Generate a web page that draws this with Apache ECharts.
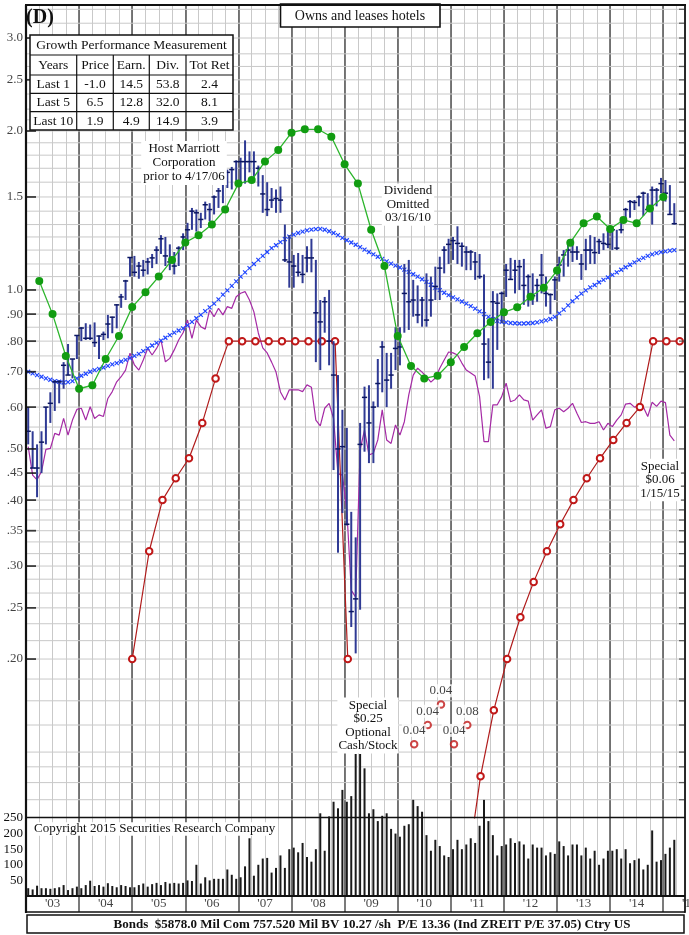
<!DOCTYPE html>
<html>
<head>
<meta charset="utf-8">
<script src="https://cdn.jsdelivr.net/npm/echarts@6/dist/echarts.min.js"></script>
<style>
html, body { margin: 0; padding: 0; background: #fff; }
#main { width: 689px; height: 935px; }
</style>
</head>
<body>
<div id="main"></div>
<script>
var chart = echarts.init(document.getElementById('main'));

// monthly price bars, Jan 2003 .. Mar 2015
var high = [
  0.60, 0.54, 0.51, 0.54, 0.60, 0.64, 0.675, 0.675, 0.73, 0.79, 0.74, 0.82,
  0.85, 0.865, 0.86, 0.868, 0.82, 0.834, 0.897, 0.89, 0.94, 0.983, 1.045, 1.153,
  1.16, 1.13, 1.14, 1.15, 1.17, 1.21, 1.27, 1.26, 1.22, 1.18, 1.21, 1.28,
  1.34, 1.43, 1.42, 1.40, 1.47, 1.46, 1.51, 1.56, 1.62, 1.69, 1.71, 1.76,
  1.78, 1.92, 1.83, 1.83, 1.72, 1.65, 1.60, 1.56, 1.55, 1.57, 1.33, 1.27,
  1.165, 1.175, 1.165, 1.21, 1.25, 1.14, 0.957, 0.97, 1.0, 0.80, 0.69, 0.593,
  0.548, 0.38, 0.34, 0.56, 0.656, 0.66, 0.615, 0.74, 0.80, 0.76, 0.76, 0.85,
  0.85, 1.12, 1.14, 1.045, 1.02, 0.97, 1.075, 1.06, 1.107, 1.156, 1.21, 1.25,
  1.26, 1.32, 1.23, 1.21, 1.19, 1.18, 1.17, 1.07, 0.81, 0.995, 0.985, 0.993,
  1.12, 1.15, 1.14, 1.14, 1.145, 1.07, 1.075, 1.05, 1.17, 1.06, 0.985, 1.06,
  1.156, 1.19, 1.22, 1.25, 1.21, 1.17, 1.25, 1.27, 1.26, 1.25, 1.28, 1.30,
  1.32, 1.30, 1.357, 1.43, 1.48, 1.48, 1.51, 1.535, 1.525, 1.57, 1.56, 1.63,
  1.615, 1.58, 1.46
];
var low = [
  0.51, 0.46, 0.405, 0.45, 0.51, 0.56, 0.59, 0.61, 0.65, 0.69, 0.68, 0.74,
  0.80, 0.804, 0.804, 0.78, 0.74, 0.804, 0.81, 0.828, 0.846, 0.925, 0.957, 1.06,
  1.06, 1.05, 1.06, 1.07, 1.10, 1.12, 1.17, 1.11, 1.09, 1.07, 1.11, 1.19,
  1.24, 1.30, 1.29, 1.31, 1.36, 1.35, 1.39, 1.43, 1.46, 1.56, 1.55, 1.61,
  1.61, 1.59, 1.67, 1.64, 1.57, 1.40, 1.38, 1.43, 1.40, 1.40, 1.13, 1.01,
  1.01, 1.06, 1.03, 1.08, 1.08, 0.73, 0.705, 0.83, 0.72, 0.456, 0.318, 0.378,
  0.358, 0.23, 0.205, 0.248, 0.494, 0.47, 0.47, 0.60, 0.64, 0.60, 0.65, 0.705,
  0.72, 0.83, 0.84, 0.89, 0.865, 0.852, 0.852, 0.89, 0.957, 0.957, 1.075, 1.12,
  1.14, 1.12, 1.107, 1.09, 1.09, 1.045, 1.05, 0.675, 0.68, 0.65, 0.77, 0.865,
  0.97, 1.045, 0.985, 1.0, 0.937, 0.93, 0.937, 0.95, 0.985, 0.93, 0.90, 0.957,
  1.037, 1.06, 1.107, 1.13, 1.14, 1.045, 1.09, 1.12, 1.12, 1.17, 1.19, 1.20,
  1.19, 1.19, 1.28, 1.357, 1.37, 1.417, 1.44, 1.38, 1.417, 1.33, 1.44, 1.525,
  1.47, 1.39, 1.33
];
var close = [
  0.54, 0.46, 0.46, 0.515, 0.60, 0.61, 0.67, 0.67, 0.72, 0.69, 0.74, 0.82,
  0.847, 0.81, 0.81, 0.795, 0.818, 0.824, 0.862, 0.888, 0.937, 0.97, 1.04, 1.152,
  1.08, 1.11, 1.09, 1.13, 1.15, 1.19, 1.25, 1.16, 1.13, 1.11, 1.20, 1.26,
  1.30, 1.41, 1.40, 1.36, 1.45, 1.42, 1.50, 1.54, 1.61, 1.67, 1.69, 1.75,
  1.75, 1.75, 1.75, 1.75, 1.70, 1.52, 1.42, 1.48, 1.49, 1.48, 1.14, 1.13,
  1.11, 1.08, 1.07, 1.15, 1.15, 0.905, 0.87, 0.95, 0.80, 0.69, 0.50, 0.505,
  0.36, 0.246, 0.26, 0.51, 0.626, 0.56, 0.60, 0.665, 0.78, 0.675, 0.69, 0.775,
  0.78, 0.985, 0.95, 0.957, 0.897, 0.957, 0.877, 0.957, 1.015, 1.10, 1.19, 1.22,
  1.24, 1.225, 1.21, 1.18, 1.18, 1.13, 1.06, 0.79, 0.73, 0.95, 0.944, 0.985,
  1.09, 1.047, 1.09, 1.107, 1.02, 1.06, 0.975, 1.02, 1.067, 0.985, 0.98, 1.045,
  1.115, 1.165, 1.19, 1.18, 1.18, 1.12, 1.19, 1.19, 1.177, 1.235, 1.225, 1.22,
  1.30, 1.20, 1.30, 1.42, 1.47, 1.465, 1.50, 1.525, 1.42, 1.546, 1.546, 1.59,
  1.525, 1.39, 1.335
];
// moving average (blue x marks), monthly
var avgLine = [
  0.700, 0.695, 0.690, 0.685, 0.680, 0.676, 0.672, 0.670, 0.668, 0.669, 0.672, 0.680,
  0.688, 0.694, 0.700, 0.705, 0.709, 0.713, 0.718, 0.723, 0.727, 0.732, 0.737, 0.743,
  0.750, 0.757, 0.766, 0.775, 0.785, 0.794, 0.802, 0.812, 0.821, 0.830, 0.838, 0.846,
  0.857, 0.870, 0.884, 0.897, 0.912, 0.927, 0.942, 0.960, 0.980, 0.998, 1.018, 1.038,
  1.060, 1.080, 1.100, 1.120, 1.140, 1.160, 1.180, 1.200, 1.215, 1.232, 1.248, 1.262,
  1.273, 1.282, 1.290, 1.297, 1.301, 1.304, 1.305, 1.300, 1.292, 1.282, 1.270, 1.255,
  1.242, 1.230, 1.218, 1.205, 1.192, 1.180, 1.168, 1.156, 1.145, 1.133, 1.122, 1.112,
  1.103, 1.093, 1.082, 1.071, 1.060, 1.048, 1.036, 1.023, 1.010, 0.999, 0.988, 0.978,
  0.968, 0.960, 0.951, 0.942, 0.932, 0.922, 0.911, 0.900, 0.889, 0.880, 0.874, 0.870,
  0.868, 0.866, 0.865, 0.864, 0.864, 0.865, 0.866, 0.868, 0.872, 0.876, 0.881, 0.889,
  0.903, 0.918, 0.935, 0.952, 0.968, 0.984, 0.998, 1.011, 1.022, 1.034, 1.045, 1.056,
  1.068, 1.080, 1.092, 1.104, 1.116, 1.128, 1.140, 1.150, 1.160, 1.168, 1.174, 1.179,
  1.183, 1.187, 1.190
];
// relative strength (purple), monthly
var relStrength = [
  0.505, 0.446, 0.437, 0.453, 0.499, 0.501, 0.535, 0.531, 0.571, 0.531, 0.567, 0.594,
  0.597, 0.567, 0.601, 0.571, 0.580, 0.576, 0.623, 0.642, 0.670, 0.685, 0.705, 0.759,
  0.721, 0.705, 0.737, 0.775, 0.753, 0.775, 0.804, 0.731, 0.742, 0.770, 0.804, 0.830,
  0.877, 0.810, 0.877, 0.852, 0.843, 0.917, 0.890, 0.923, 0.897, 0.930, 0.923, 0.971,
  0.986, 0.993, 0.957, 0.909, 0.829, 0.777, 0.760, 0.730, 0.699, 0.641, 0.619, 0.647,
  0.647, 0.647, 0.642, 0.661, 0.654, 0.567, 0.553, 0.597, 0.610, 0.571, 0.449, 0.446,
  0.383, 0.270, 0.262, 0.498, 0.543, 0.487, 0.491, 0.520, 0.593, 0.520, 0.512, 0.555,
  0.531, 0.563, 0.633, 0.690, 0.711, 0.699, 0.685, 0.669, 0.681, 0.711, 0.737, 0.763,
  0.760, 0.753, 0.727, 0.705, 0.696, 0.687, 0.628, 0.516, 0.516, 0.606, 0.606, 0.628,
  0.666, 0.614, 0.619, 0.633, 0.619, 0.616, 0.567, 0.580, 0.593, 0.547, 0.551, 0.593,
  0.597, 0.588, 0.597, 0.610, 0.584, 0.561, 0.563, 0.559, 0.559, 0.563, 0.543, 0.559,
  0.551, 0.567, 0.580, 0.608, 0.610, 0.600, 0.603, 0.600, 0.576, 0.613, 0.602, 0.616,
  0.612, 0.531, 0.518
];
// monthly volume
var volume = [
  25, 21, 33, 25, 25, 23, 25, 28, 35, 19, 25, 30,
  25, 35, 49, 32, 35, 30, 41, 32, 28, 35, 32, 28,
  28, 35, 40, 30, 38, 42, 35, 45, 40, 42, 40, 42,
  50, 48, 100, 40, 60, 50, 55, 55, 55, 85, 68, 55,
  60, 95, 185, 65, 100, 120, 122, 75, 90, 130, 90, 150,
  155, 140, 170, 125, 110, 150, 265, 145, 255, 302, 281, 340,
  302, 320, 455, 455, 409, 265, 278, 240, 257, 265, 215, 200,
  190, 225, 230, 308, 288, 270, 195, 145, 180, 160, 130, 125,
  150, 180, 150, 165, 185, 170, 225, 308, 240, 195, 130, 160,
  165, 185, 170, 175, 165, 120, 165, 155, 155, 130, 140, 135,
  175, 160, 130, 165, 165, 130, 155, 120, 145, 100, 120, 145,
  145, 150, 120, 150, 105, 115, 120, 85, 100, 210, 110, 115,
  135, 155, 180
];
// quarterly earnings (green), quarter ends from 2003.25 to 2015.0
var earnings = [
  1.04, 0.90, 0.75, 0.65, 0.66, 0.74, 0.818, 0.928, 0.99, 1.06, 1.14, 1.23,
  1.27, 1.33, 1.42, 1.59, 1.615, 1.75, 1.84, 1.985, 2.015, 2.015, 1.95, 1.73,
  1.59, 1.30, 1.11, 0.818, 0.718, 0.68, 0.688, 0.73, 0.78, 0.828, 0.87, 0.907,
  0.927, 0.971, 1.01, 1.088, 1.229, 1.337, 1.377, 1.305, 1.357, 1.337, 1.427, 1.50
];
// dividends (red)
var divDates1 = [2005.0, 2005.32, 2005.57, 2005.82, 2006.07, 2006.32, 2006.57, 2006.82, 2007.07,
  2007.32, 2007.57, 2007.82, 2008.07, 2008.32, 2008.57, 2008.82, 2009.06];
var divValues1 = [0.20, 0.32, 0.40, 0.44, 0.48, 0.56, 0.68, 0.80, 0.80, 0.80, 0.80, 0.80, 0.80, 0.80, 0.80, 0.80, 0.20];
var divDates2 = [2011.31, 2011.56, 2011.81, 2012.06, 2012.31, 2012.56, 2012.81, 2013.06, 2013.31,
  2013.56, 2013.81, 2014.06, 2014.31, 2014.56, 2014.81, 2015.06, 2015.31];
var divValues2 = [0.08, 0.12, 0.16, 0.20, 0.24, 0.28, 0.32, 0.36, 0.40, 0.44, 0.48, 0.52, 0.56, 0.60, 0.80, 0.80, 0.80];
var extraDivDates = [2010.31, 2010.565, 2010.815, 2011.06, 2011.31];
var extraDivPos = [0.138, 0.150, 0.164, 0.138, 0.150];
var extraDivLabels = ['0.04', '0.04', '0.04', '0.04', '0.08'];

var priceTicks = [3.0, 2.5, 2.0, 1.5, 1.0, 0.9, 0.8, 0.7, 0.6, 0.5, 0.45, 0.4, 0.35, 0.3, 0.25, 0.2];
var priceTickLabels = ['3.0', '2.5', '2.0', '1.5', '1.0', '.90', '.80', '.70', '.60', '.50', '.45', '.40', '.35', '.30', '.25', '.20'];
var gridVals = [3.4, 3.2, 3.0, 2.8, 2.65, 2.5, 2.35, 2.2, 2.1, 2.0, 1.9, 1.8, 1.7, 1.6, 1.5, 1.41, 1.33, 1.26,
  1.19, 1.12, 1.06, 1.0, 0.95, 0.9, 0.85, 0.8, 0.75, 0.7, 0.65, 0.6, 0.55, 0.5, 0.45, 0.425, 0.4,
  0.3833, 0.3667, 0.35, 0.3333, 0.3167, 0.3, 0.2833, 0.2667, 0.25, 0.2333, 0.2167, 0.2, 0.1833,
  0.1667, 0.15, 0.1333, 0.125, 0.1167, 0.1083];
var volTickLabels = [50, 100, 150, 200, 250];
var yearLabels = ["'03", "'04", "'05", "'06", "'07", "'08", "'09", "'10", "'11", "'12", "'13", "'14", "'15"];

var X0 = 2003, X1 = 2015.41;
var SERIF = '"Liberation Serif", "DejaVu Serif", serif';

function monthX(i) { return X0 + (i + 0.5) / 12; }
function pairs(xs, ys) { return ys.map(function (v, i) { return [xs[i], v]; }); }

var months = volume.map(function (v, i) { return monthX(i); });
var quarters = earnings.map(function (v, i) { return X0 + 0.25 * (i + 1); });

function xAxisDef(grid, interval, color, width) {
  return {
    type: 'value', gridIndex: grid, min: X0, max: X1, interval: interval,
    axisLine: { show: false }, axisTick: { show: false }, axisLabel: { show: false },
    splitLine: { show: !!color, lineStyle: { color: color || '#000', width: width || 1 } }
  };
}
function hiddenY(grid) {
  return { type: 'value', gridIndex: grid, min: 0, max: 1, show: false, splitLine: { show: false } };
}
function txt(x, y, s, extra) {
  var st = {
    x: x, y: y, text: s, font: '13px ' + SERIF, fill: '#111',
    align: 'center', verticalAlign: 'middle', textAlign: 'center', textVerticalAlign: 'middle',
    lineHeight: 13.5
  };
  for (var k in extra) st[k] = extra[k];
  return { type: 'text', z: 100, silent: true, style: st };
}
function ln(x1, y1, x2, y2, w, c) {
  return { type: 'line', z: 99, silent: true, shape: { x1: x1, y1: y1, x2: x2, y2: y2 },
    style: { stroke: c || '#111', lineWidth: w || 1 } };
}

// table of growth figures
var tableRows = [
  ['Years', 'Price', 'Earn.', 'Div.', 'Tot Ret'],
  ['Last 1', '-1.0', '14.5', '53.8', '2.4'],
  ['Last 5', '6.5', '12.8', '32.0', '8.1'],
  ['Last 10', '1.9', '4.9', '14.9', '3.9']
];
var colX = [53.3, 95, 131.3, 167.7, 209.5];
var rowY = [65, 84, 102.5, 121];

var graphics = [
  { type: 'rect', z: 98, silent: true, shape: { x: 30, y: 35, width: 203, height: 95 },
    style: { fill: '#fff', stroke: '#111', lineWidth: 1.5 } },
  ln(30, 55, 233, 55, 1.2), ln(30, 75, 233, 75, 1.2), ln(30, 93.3, 233, 93.3, 1.2), ln(30, 111.7, 233, 111.7, 1.2),
  ln(76.7, 55, 76.7, 130, 1.2), ln(113.3, 55, 113.3, 130, 1.2), ln(149.3, 55, 149.3, 130, 1.2), ln(186, 55, 186, 130, 1.2),
  txt(131.5, 45.5, 'Growth Performance Measurement', { font: '13.5px ' + SERIF })
];
tableRows.forEach(function (row, r) {
  row.forEach(function (cell, c) {
    graphics.push(txt(colX[c], rowY[r], cell, { font: '13.5px ' + SERIF }));
  });
});
graphics = graphics.concat([
  // frame
  ln(26, 5, 26, 913, 2.2), ln(25, 5, 686, 5, 2.2), ln(685, 5, 685, 913, 1.5),
  ln(26, 817.5, 685, 817.5, 1.5), ln(26, 896, 685, 896, 2), ln(26, 912, 685, 912, 1.5),
  { type: 'rect', z: 98, silent: true, shape: { x: 27, y: 915, width: 657, height: 18 },
    style: { fill: '#fff', stroke: '#111', lineWidth: 1.5 } },
  txt(372, 924.5, 'Bonds  $5878.0 Mil Com 757.520 Mil BV 10.27 /sh  P/E 13.36 (Ind ZREIT P/E 37.05) Ctry US',
    { font: 'bold 13px ' + SERIF }),
  // title box
  { type: 'rect', z: 98, silent: true, shape: { x: 280.5, y: 4, width: 159.5, height: 23 },
    style: { fill: '#fff', stroke: '#111', lineWidth: 1.6 } },
  txt(360, 16, 'Owns and leases hotels', { font: '14px ' + SERIF }),
  txt(40, 18, '(D)', { font: 'bold 20px ' + SERIF }),
  // notes
  txt(184, 163, 'Host Marriott\nCorporation\nprior to 4/17/06', { backgroundColor: '#fff', lineHeight: 14, padding: [1, 2] }),
  txt(408, 204.5, 'Dividend\nOmitted\n03/16/10', { backgroundColor: '#fff', padding: [1, 2] }),
  txt(368, 725.5, 'Special\n$0.25\nOptional\nCash/Stock', { backgroundColor: '#fff', padding: [1, 1] }),
  txt(660, 480, 'Special\n$0.06\n1/15/15', { backgroundColor: '#fff', padding: [1, 1] }),
  txt(33, 829, 'Copyright 2015 Securities Research Company',
    { align: 'left', textAlign: 'left', backgroundColor: '#fff', padding: [0, 1] })
]);

option = {
  animation: false,
  backgroundColor: '#fff',
  grid: [
    { left: 26, right: 4, top: 5, height: 813 },
    { left: 26, right: 4, top: 646, height: 250 },
    { left: 26, right: 4, top: 818, height: 78 },
    { left: 26, right: 4, top: 896, height: 16 }
  ],
  xAxis: [
    xAxisDef(0, 0.25, '#c9c9c9', 1),
    xAxisDef(0, 1, '#5a5a5a', 1.6),
    xAxisDef(1, 1, null),
    xAxisDef(2, 0.25, '#c9c9c9', 1),
    xAxisDef(2, 1, '#5a5a5a', 1.6),
    xAxisDef(3, 1, '#5a5a5a', 1.6)
  ],
  yAxis: [
    { type: 'log', logBase: 10, gridIndex: 0, min: 0.1, max: 3.4646,
      axisLine: { show: false }, axisTick: { show: false }, axisLabel: { show: false }, splitLine: { show: false } },
    { type: 'value', gridIndex: 1, min: 0, max: 801, interval: 50,
      axisLine: { show: false }, axisTick: { show: false }, splitLine: { show: false },
      axisLabel: {
        margin: 3, fontSize: 13, fontFamily: SERIF, color: '#111',
        formatter: function (v) { return volTickLabels.indexOf(v) >= 0 ? String(v) : ''; }
      } },
    hiddenY(2),
    hiddenY(3)
  ],
  graphic: graphics,
  series: [
    { // horizontal price grid
      type: 'custom', xAxisIndex: 0, yAxisIndex: 0, z: 1, silent: true, clip: false,
      encode: { x: 0, y: 1 },
      renderItem: function (params, api) {
        var a = api.coord([X0, api.value(1)]);
        var b = api.coord([X1, api.value(1)]);
        return { type: 'line', shape: { x1: a[0], y1: a[1], x2: b[0], y2: b[1] },
          style: { stroke: '#c9c9c9', lineWidth: 1 } };
      },
      data: gridVals.map(function (v) { return [X0, v]; })
    },
    { // left scale ticks and labels
      type: 'scatter', xAxisIndex: 0, yAxisIndex: 0, z: 20, clip: false, silent: true,
      symbol: 'rect', symbolSize: [10, 1.8], symbolOffset: [5, 0],
      itemStyle: { color: '#111' },
      label: {
        show: true, position: 'left', distance: 3, fontSize: 13, fontFamily: SERIF, color: '#111',
        formatter: function (p) { return priceTickLabels[p.dataIndex]; }
      },
      data: priceTicks.map(function (v) { return [X0, v]; })
    },
    { // right edge ticks
      type: 'scatter', xAxisIndex: 0, yAxisIndex: 0, z: 20, clip: false, silent: true,
      symbol: 'rect', symbolSize: [6, 1.3], symbolOffset: [-3, 0],
      itemStyle: { color: '#444' },
      data: gridVals.map(function (v) { return [X1, v]; })
    },
    { // volume
      type: 'bar', xAxisIndex: 2, yAxisIndex: 1, barWidth: 2, z: 3, silent: true,
      itemStyle: { color: '#1a1a1a' },
      data: pairs(months, volume)
    },
    { // relative strength
      type: 'line', xAxisIndex: 0, yAxisIndex: 0, z: 4, symbol: 'none', silent: true,
      lineStyle: { color: '#a52aa5', width: 1.2 },
      data: pairs(months, relStrength)
    },
    { // moving average
      type: 'line', xAxisIndex: 0, yAxisIndex: 0, z: 4, silent: true,
      symbol: 'path://M0,0L10,10M10,0L0,10', symbolSize: 4, showSymbol: true,
      itemStyle: { color: '#1f45ff', borderColor: '#1f45ff', borderWidth: 1.2 },
      lineStyle: { width: 0, opacity: 0 },
      data: pairs(months, avgLine)
    },
    { // dividends
      type: 'line', xAxisIndex: 0, yAxisIndex: 0, z: 5, silent: true,
      symbol: 'emptyCircle', symbolSize: 6.5,
      itemStyle: { color: '#c01818', borderWidth: 1.2 },
      lineStyle: { color: '#b01c1c', width: 1.2 },
      data: pairs(divDates1, divValues1)
    },
    {
      type: 'line', xAxisIndex: 0, yAxisIndex: 0, z: 5, silent: true,
      symbol: 'emptyCircle', symbolSize: 6.5,
      itemStyle: { color: '#c01818', borderWidth: 1.2 },
      lineStyle: { color: '#b01c1c', width: 1.2 },
      data: pairs(divDates2, divValues2)
    },
    {
      type: 'scatter', xAxisIndex: 0, yAxisIndex: 0, z: 5, silent: true,
      symbol: 'emptyCircle', symbolSize: 6.5,
      itemStyle: { color: '#c01818', borderWidth: 1.2 },
      label: {
        show: true, position: 'top', distance: 3, fontSize: 13, fontFamily: SERIF, color: '#111',
        backgroundColor: '#fff', padding: [0, 1],
        formatter: function (p) { return extraDivLabels[p.dataIndex]; }
      },
      data: pairs(extraDivDates, extraDivPos)
    },
    { // monthly price range bars
      type: 'custom', xAxisIndex: 0, yAxisIndex: 0, z: 6, silent: true,
      encode: { x: 0, y: [1, 2, 3] },
      renderItem: function (params, api) {
        var x = api.value(0);
        var pH = api.coord([x, api.value(1)]);
        var pL = api.coord([x, api.value(2)]);
        var pC = api.coord([x, api.value(3)]);
        return {
          type: 'group',
          children: [
            { type: 'line', shape: { x1: pH[0], y1: pH[1], x2: pL[0], y2: pL[1] },
              style: { stroke: '#2f3a94', lineWidth: 2 } },
            { type: 'line', shape: { x1: pC[0] - 2.6, y1: pC[1], x2: pC[0] + 2.6, y2: pC[1] },
              style: { stroke: '#0b1660', lineWidth: 1.5 } }
          ]
        };
      },
      data: high.map(function (h, i) { return [monthX(i), h, low[i], close[i]]; })
    },
    { // earnings
      type: 'line', xAxisIndex: 0, yAxisIndex: 0, z: 7, silent: true,
      symbol: 'circle', symbolSize: 8,
      itemStyle: { color: '#119c11' },
      lineStyle: { color: '#2cb52c', width: 1.3 },
      data: pairs(quarters, earnings)
    },
    { // year labels
      type: 'scatter', xAxisIndex: 5, yAxisIndex: 3, z: 10, clip: false, silent: true,
      symbolSize: 1, itemStyle: { color: 'rgba(0,0,0,0)' },
      label: {
        show: true, position: 'inside', fontSize: 13, fontFamily: SERIF, color: '#111',
        formatter: function (p) { return yearLabels[p.dataIndex]; }
      },
      data: yearLabels.map(function (s, i) { return [X0 + i + 0.5, 0.5]; })
    }
  ]
};
chart.setOption(option);
</script>
</body>
</html>
